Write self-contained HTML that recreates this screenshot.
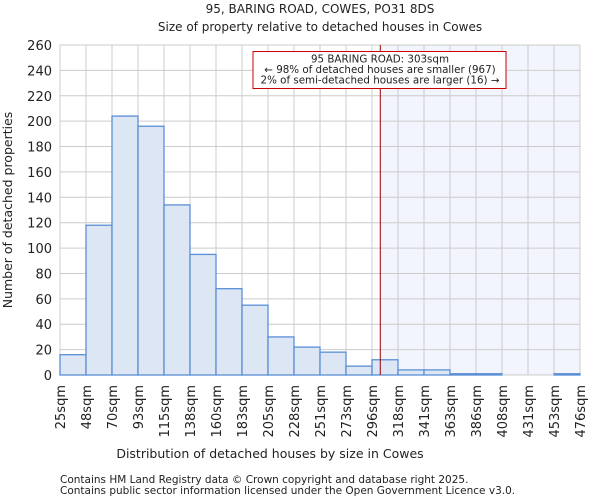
<!DOCTYPE html>
<html><head><meta charset="utf-8"><style>
body{margin:0;background:#fff;font-family:"DejaVu Sans","Liberation Sans",sans-serif;}
svg text{font-family:"DejaVu Sans","Liberation Sans",sans-serif;fill:#222;}
</style></head><body>
<svg id="c" width="600" height="500">
<text x="320" y="13" font-size="12" text-anchor="middle">95, BARING ROAD, COWES, PO31 8DS</text>
<text x="320" y="31" font-size="12" text-anchor="middle">Size of property relative to detached houses in Cowes</text>
<g id="grid"></g><g id="bars"></g><g id="axes"></g>
<text x="270" y="458" font-size="12.5" text-anchor="middle">Distribution of detached houses by size in Cowes</text>
<text transform="translate(12,210) rotate(-90)" font-size="12.5" text-anchor="middle">Number of detached properties</text>
<text x="60" y="483" font-size="10.5">Contains HM Land Registry data © Crown copyright and database right 2025.</text>
<text x="60" y="494" font-size="10.5">Contains public sector information licensed under the Open Government Licence v3.0.</text>
</svg>
<script>
const categories=["25sqm","48sqm","70sqm","93sqm","115sqm","138sqm","160sqm","183sqm","205sqm","228sqm","251sqm","273sqm","296sqm","318sqm","341sqm","363sqm","386sqm","408sqm","431sqm","453sqm","476sqm"];
const counts=[16,118,204,196,134,95,68,55,30,22,18,7,12,4,4,1,1,0,0,1];
const yTicks=[0,20,40,60,80,100,120,140,160,180,200,220,240,260];
const propertySize=303;
const edgeValues=[25,48,70,93,115,138,160,183,205,228,251,273,296,318,341,363,386,408,431,453,476];
const NS="http://www.w3.org/2000/svg";
const L=60,R=580,T=45,B=375,ymax=260;
const nb=counts.length,bw=(R-L)/nb;
const xs=i=>L+i*bw;
const ys=v=>B-(v/ymax)*(B-T);
function xv(v){for(let i=0;i<edgeValues.length-1;i++){if(v<=edgeValues[i+1])return xs(i)+(v-edgeValues[i])/(edgeValues[i+1]-edgeValues[i])*bw;}return R;}
function mk(tag,attrs,parent){const e=document.createElementNS(NS,tag);for(const k in attrs)e.setAttribute(k,attrs[k]);parent.appendChild(e);return e;}
const g=document.getElementById('grid'),b=document.getElementById('bars'),a=document.getElementById('axes'),svg=document.getElementById('c');
const px=xv(propertySize);
let sh=mk('rect',{x:px,y:T,width:R-px,height:B-T,fill:'#f2f5fd'},g);


yTicks.forEach(t=>{let l=mk('line',{x1:L,x2:R,y1:ys(t),y2:ys(t),stroke:'#cccccc'},g);


let tx=mk('text',{x:L-8,y:ys(t)+5,'font-size':'13','text-anchor':'end'},a);tx.textContent=t;

});
categories.forEach((c,i)=>{let l=mk('line',{x1:xs(i),x2:xs(i),y1:T,y2:B,stroke:'#cccccc'},g);


let tx=mk('text',{transform:`translate(${xs(i)+5},385) rotate(-90)`,'font-size':'13','text-anchor':'end'},a);tx.textContent=c;

});
counts.forEach((v,i)=>{let r=mk('rect',{x:xs(i),y:ys(v),width:bw,height:B-ys(v),fill:'#dce6f4',stroke:'#5b8fd6','stroke-width':'1.3'},b);

});
let ml=mk('line',{x1:px,x2:px,y1:T,y2:B,stroke:'#990000','stroke-width':'1'},b);


let box=mk('g',{},svg);


mk('rect',{x:253,y:51.5,width:253,height:37,fill:'#fff',stroke:'#cc0000','stroke-width':'1'},box);
["95 BARING ROAD: 303sqm","← 98% of detached houses are smaller (967)","2% of semi-detached houses are larger (16) →"].forEach((s,i)=>{let t=mk('text',{x:380,y:62.5+i*10.5,'font-size':'10.3','text-anchor':'middle'},box);t.textContent=s;});
</script>
</body></html>
